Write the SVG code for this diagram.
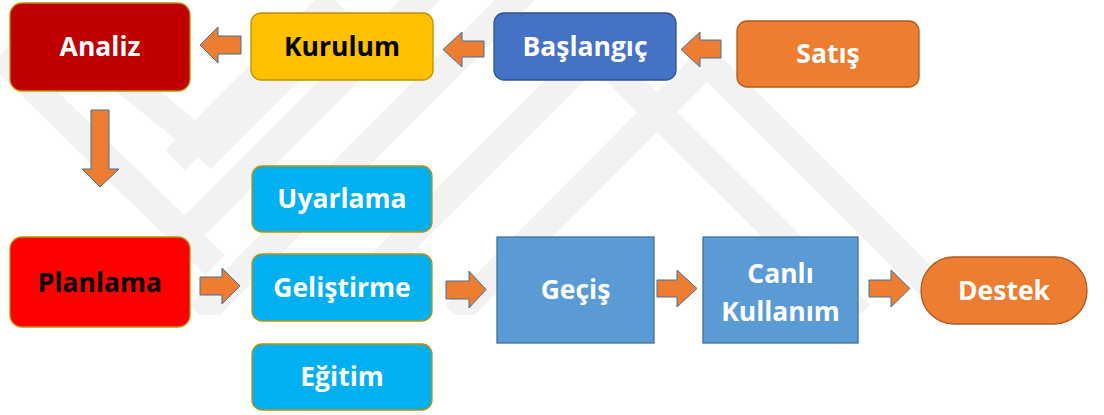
<svg xmlns="http://www.w3.org/2000/svg" width="1104" height="415" viewBox="0 0 1104 415">
<defs>
<style>
.t{font-family:"Open Sans","Liberation Sans",Arial,sans-serif;font-weight:bold;font-size:26.5px;text-anchor:middle}
.w{fill:#FFFFFF}
.k{fill:#000000}
.arr{fill:#ED7D31;stroke:#41719C;stroke-width:1}
.wm{fill:none;stroke:#F2F2F2;stroke-width:28;stroke-linejoin:miter}
.gold{stroke:#BF9000;stroke-width:1.3}
.blu{fill:#5B9BD5;stroke:#41719C;stroke-width:1.3}
</style>
<clipPath id="wmclip"><rect x="0" y="0" width="1104" height="315"/></clipPath>
</defs>
<rect width="1104" height="415" fill="#FFFFFF"/>
<g id="watermark" clip-path="url(#wmclip)">
<polyline class="wm" points="455,315 707,62 960,315"/>
<polyline class="wm" points="330,315 595,50 705,160 860,315"/>
<polyline class="wm" points="200,315 540,-25"/>
<polyline class="wm" points="120,300 430,-10"/>
<polyline class="wm" points="175,160 335,0"/>
<polyline class="wm" points="0,55 215,265"/>
<polyline class="wm" points="100,60 210,150 300,60"/>
</g>
<g id="connectors">
<path class="arr" d="M241,36 H218 V27 L200,45 L218,63 V54 H241 Z"/>
<path class="arr" d="M484,41 H462 V32 L443,49.5 L462,67 V57 H484 Z"/>
<path class="arr" d="M721,40 H700 V32 L681,49.5 L700,67 V58 H721 Z"/>
<path class="arr" d="M91,110 H109 V169 H119 L100,187 L82,169 H91 Z"/>
<path class="arr" d="M200,277 H222 V268 L240,286 L222,304 V295 H200 Z"/>
<path class="arr" d="M446,281 H469 V271 L486,289.5 L469,308 V299 H446 Z"/>
<path class="arr" d="M657,280 H677 V270 L697,288.5 L677,307 V297 H657 Z"/>
<path class="arr" d="M869,280 H891 V270 L910,288.5 L891,307 V297 H869 Z"/>
</g>
<g id="analiz">
<rect x="10" y="3" width="180" height="88" rx="12" fill="#C00000" class="gold"/>
<text class="t w" x="100" y="56">Analiz</text>
</g>
<g id="kurulum">
<rect x="251" y="13" width="182" height="67" rx="10" fill="#FFC000" class="gold"/>
<text class="t k" x="342" y="56">Kurulum</text>
</g>
<g id="baslangic">
<rect x="494" y="13" width="182" height="67" rx="10" fill="#4472C4" stroke="#2F528F" stroke-width="1.3"/>
<text class="t w" x="585" y="56">Başlangıç</text>
</g>
<g id="satis">
<rect x="737" y="21" width="182" height="66" rx="10" fill="#ED7D31" stroke="#AE5A21" stroke-width="1.3"/>
<text class="t w" x="828" y="63">Satış</text>
</g>
<g id="planlama">
<rect x="10" y="237" width="180" height="90" rx="12" fill="#FF0000" class="gold"/>
<text class="t k" x="100" y="292">Planlama</text>
</g>
<g id="uyarlama">
<rect x="252" y="166" width="180" height="66" rx="10" fill="#00B0F0" class="gold"/>
<text class="t w" x="342" y="208">Uyarlama</text>
</g>
<g id="gelistirme">
<rect x="252" y="254" width="180" height="67" rx="10" fill="#00B0F0" class="gold"/>
<text class="t w" x="342" y="297">Geliştirme</text>
</g>
<g id="egitim">
<rect x="252" y="344" width="180" height="66" rx="10" fill="#00B0F0" class="gold"/>
<text class="t w" x="342" y="386">Eğitim</text>
</g>
<g id="gecis">
<rect x="497" y="237" width="157" height="106" class="blu"/>
<text class="t w" x="575.5" y="299">Geçiş</text>
</g>
<g id="canli">
<rect x="703" y="237" width="155" height="106" class="blu"/>
<text class="t w" x="780.5" y="283">Canlı</text>
<text class="t w" x="780.5" y="321">Kullanım</text>
</g>
<g id="destek">
<rect x="921" y="257" width="166" height="67" rx="33" fill="#ED7D31" stroke="#AE5A21" stroke-width="1.3"/>
<text class="t w" x="1004" y="300">Destek</text>
</g>
</svg>
